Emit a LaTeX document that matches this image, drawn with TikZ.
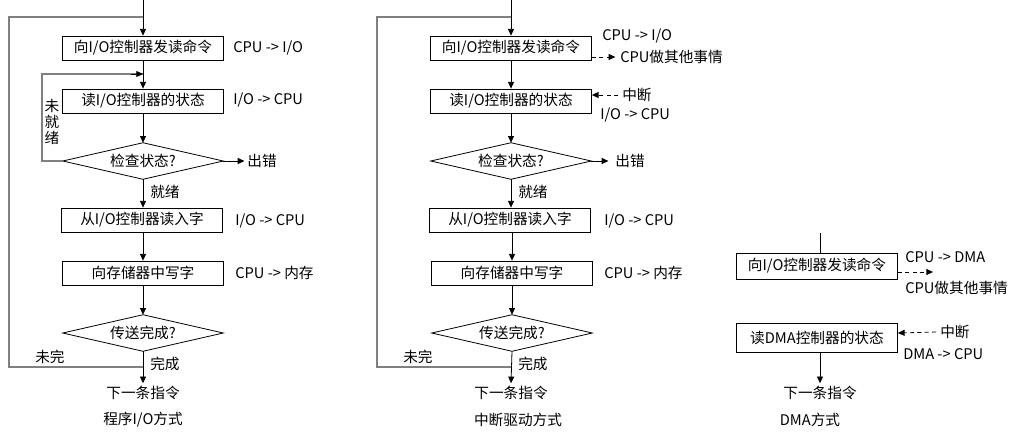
\documentclass[tikz,border=0pt]{standalone}
\usepackage{fontspec}
\setmainfont{Noto Sans CJK SC}
\usetikzlibrary{arrows.meta}
\begin{document}
\begin{tikzpicture}[x=0.75pt,y=-0.75pt,
  txt/.style={font=\fontsize{11}{12}\selectfont},
  box/.style={txt,draw,line width=0.6pt,minimum width=120.75pt,minimum height=18pt,inner sep=0pt},
  dia/.style={txt,minimum width=120pt,minimum height=27pt,inner sep=0pt},
  lbl/.style={txt,inner sep=0pt,anchor=west},
  ctr/.style={txt,inner sep=2pt},
  arr/.style={line width=0.6pt,-{Triangle[length=5pt,width=4.5pt]}},
  darr/.style={arr,dash pattern=on 3pt off 2.5pt},
  loopln/.style={draw=gray,line width=1.1pt},
  diaout/.style={draw,line width=0.6pt}]
\useasboundingbox (0,0) rectangle (1019,433);

% ---------------- panel 1 ----------------
\coordinate (t1) at (143,0);
\coordinate (j1) at (143,17);
\coordinate (j2) at (143,74);
\coordinate (j3) at (143,367);
\coordinate (c1) at (9,367);
\coordinate (c2) at (9,17);
\coordinate (c3) at (42,161);
\coordinate (c4) at (42,74);
\node[box] (a1) at (143,48) {向I/O控制器发读命令};
\node[box] (a2) at (143,101) {读I/O控制器的状态};
\node[dia] (a3) at (143,161) {检查状态?};
\draw[diaout] (a3.north) -- (a3.east) -- (a3.south) -- (a3.west) -- cycle;
\node[box] (a4) at (142,220) {从I/O控制器读入字};
\node[box] (a5) at (143,273) {向存储器中写字};
\node[dia] (a6) at (143,333) {传送完成?};
\draw[diaout] (a6.north) -- (a6.east) -- (a6.south) -- (a6.west) -- cycle;
\node[ctr] (a7) at (143,393) {下一条指令};
\node[ctr] (a8) at (143,420) {程序I/O方式};
\node[ctr] (e1) at (262,161) {出错};
\node[lbl] (l11) at (233,48) {CPU -> I/O};
\node[lbl] (l12) at (233,100) {I/O -> CPU};
\node[lbl] (l13) at (235,221) {I/O -> CPU};
\node[lbl] (l14) at (235,273) {CPU -> 内存};
\node[txt,align=center,inner sep=0pt] (l15) at (52,122) {\fontsize{11}{15}\selectfont 未\\就\\绪};
\node[lbl] (l16) at (150,192) {就绪};
\node[lbl] (l17) at (35,357) {未完};
\node[lbl] (l18) at (150,364) {完成};

\draw[loopln] (j3) -- (c1) -- (c2) -- (j1);
\draw[loopln] (a3.west) -- (c3) -- (c4) -- (j2);
\draw[arr] (j2) ++(-12,0) -- (j2);
\draw[arr] (t1) -- (a1.north);
\draw[arr] (a1) -- (a2);
\draw[arr] (a2) -- (a3.north);
\draw[arr] (a3.east) -- (e1.west);
\draw[arr] (a3.south) -- (a3.south |- a4.north);
\draw[arr] (a4.south -| a5.north) -- (a5.north);
\draw[arr] (a5) -- (a6.north);
\draw[arr] (a6.south) -- (a7.north);

% ---------------- panel 2 ----------------
\coordinate (t2) at (511,0);
\coordinate (k1) at (511,17);
\coordinate (k3) at (511,367);
\coordinate (m1) at (377,367);
\coordinate (m2) at (377,17);
\node[box] (b1) at (511,48) {向I/O控制器发读命令};
\node[box] (b2) at (511,101) {读I/O控制器的状态};
\node[dia] (b3) at (511,161) {检查状态?};
\draw[diaout] (b3.north) -- (b3.east) -- (b3.south) -- (b3.west) -- cycle;
\node[box] (b4) at (510,220) {从I/O控制器读入字};
\node[box] (b5) at (512,273) {向存储器中写字};
\node[dia] (b6) at (512,333) {传送完成?};
\draw[diaout] (b6.north) -- (b6.east) -- (b6.south) -- (b6.west) -- cycle;
\node[ctr] (b7) at (511,393) {下一条指令};
\node[ctr] (b8) at (518,420) {中断驱动方式};
\node[ctr] (e2) at (630,161) {出错};
\node[lbl] (l21) at (602,36) {CPU -> I/O};
\node[lbl] (o2) at (620,57) {CPU做其他事情};
\node[lbl] (i2) at (622,95) {中断};
\node[lbl] (l22) at (600,115) {I/O -> CPU};
\node[lbl] (l23) at (604,221) {I/O -> CPU};
\node[lbl] (l24) at (604,273) {CPU -> 内存};
\node[lbl] (l26) at (518,192) {就绪};
\node[lbl] (l27) at (403,357) {未完};
\node[lbl] (l28) at (518,364) {完成};

\draw[loopln] (k3) -- (m1) -- (m2) -- (k1);
\draw[arr] (t2) -- (b1.north);
\draw[arr] (b1) -- (b2);
\draw[arr] (b2) -- (b3.north);
\draw[arr] (b3.east) -- ([xshift=-3pt]e2.west);
\draw[arr] (b3.south) -- (b3.south |- b4.north);
\draw[arr] (b4.south -| b5.north) -- (b5.north);
\draw[arr] (b5) -- (b6.north);
\draw[arr] (b6.south) -- (b7.north);
\draw[darr] ([yshift=-6.75pt]b1.east) -- ([xshift=-3.5pt]o2.west);
\draw[darr] ([xshift=-3pt]i2.west) -- ([yshift=4.5pt]b2.east);

% ---------------- panel 3 ----------------
\coordinate (d0) at (820,233);
\coordinate (d9) at (933,272);
\node[box,minimum height=19.5pt] (d1) at (817,266) {向I/O控制器发读命令};
\node[box,minimum height=21.5pt] (d2) at (817,338) {读DMA控制器的状态};
\node[ctr] (d3) at (820,393) {下一条指令};
\node[ctr] (d4) at (810,420) {DMA方式};
\node[lbl] (l31) at (905,257) {CPU -> DMA};
\node[lbl] (o3) at (905,288) {CPU做其他事情};
\node[lbl] (i3) at (940,332) {中断};
\node[lbl] (l32) at (903,354) {DMA -> CPU};

\draw[line width=0.6pt] (d0) -- (d0 |- d1.north);
\draw[darr] ([yshift=-4.5pt]d1.east) -- (d9);
\draw[darr] ([xshift=-3pt]i3.west) -- ([yshift=3.75pt]d2.east);
\draw[arr] (d0 |- d2.south) -- (d0 |- d3.north);
\end{tikzpicture}
\end{document}
